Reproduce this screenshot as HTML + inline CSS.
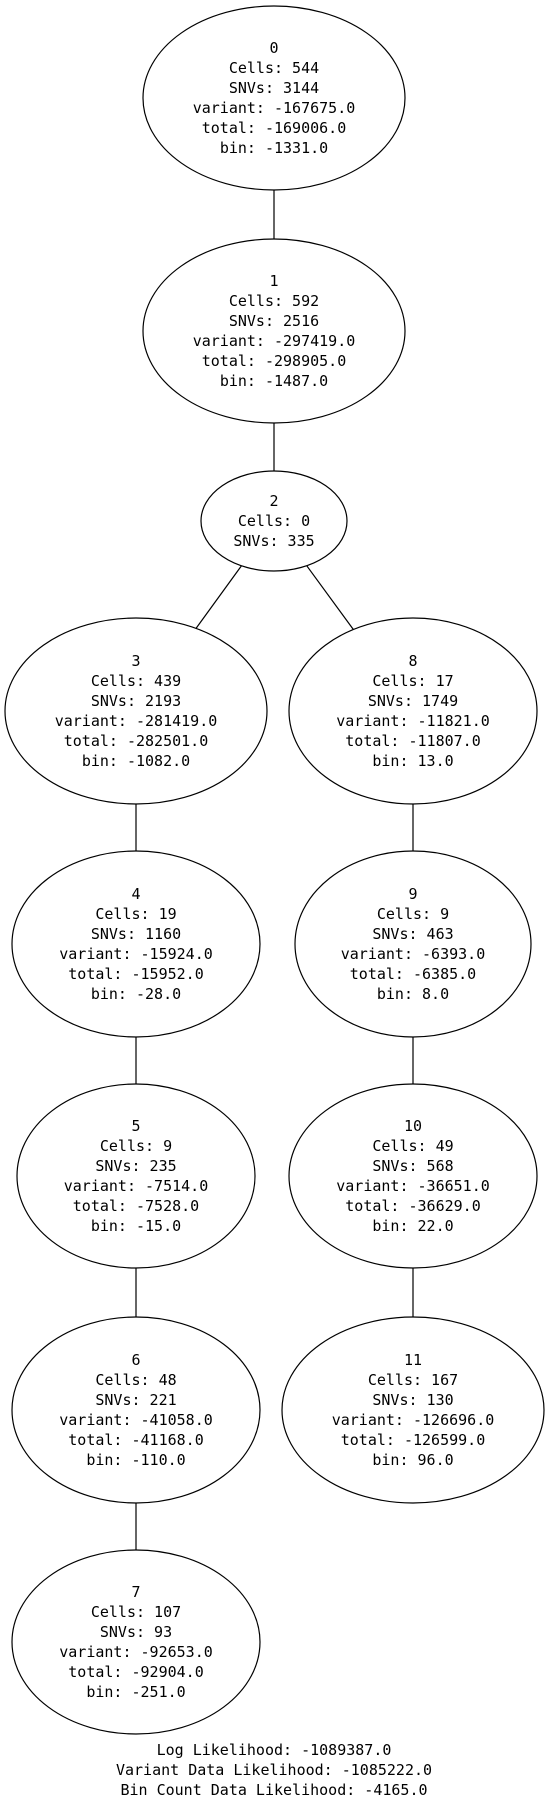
<!DOCTYPE html>
<html><head><meta charset="utf-8"><style>
html,body{margin:0;padding:0;background:#fff;}
svg{display:block;}
text{font-family:"DejaVu Sans Mono","Liberation Mono",monospace;font-size:15px;fill:#000;}
</style></head>
<body>
<svg id="tree" width="548" height="1806" viewBox="0 0 548 1806" xmlns="http://www.w3.org/2000/svg"></svg>
<script>
const nodeIds = [0,1,2,3,4,5,6,7,8,9,10,11];
const cells = [544,592,0,439,19,9,48,107,17,9,49,167];
const snvs = [3144,2516,335,2193,1160,235,221,93,1749,463,568,130];
const variantLL = [-167675,-297419,null,-281419,-15924,-7514,-41058,-92653,-11821,-6393,-36651,-126696];
const totalLL = [-169006,-298905,null,-282501,-15952,-7528,-41168,-92904,-11807,-6385,-36629,-126599];
const binLL = [-1331,-1487,null,-1082,-28,-15,-110,-251,13,8,22,96];
const parents = [null,0,1,2,3,4,5,6,2,8,9,10];
const footerLines = ["Log Likelihood: -1089387.0","Variant Data Likelihood: -1085222.0","Bin Count Data Likelihood: -4165.0"];

// layout (positions, not data)
const layout = {
 0:[274,98,131,92],1:[274,331,131,92],2:[274,521,73,50],
 3:[136,711,131,93],4:[136,944,124,93],5:[136,1176,119,92],6:[136,1410,124,93],7:[136,1642,124,92],
 8:[413,711,124,93],9:[413,944,118,93],10:[413,1176,124,92],11:[413,1410,131,93]
};
const NS="http://www.w3.org/2000/svg";
const svg=document.getElementById('tree');
function mk(t,a){const e=document.createElementNS(NS,t);for(const k in a)e.setAttribute(k,a[k]);return e;}
function edgePoint(n,tx,ty){const [cx,cy,rx,ry]=layout[n];const dx=tx-cx,dy=ty-cy;const s=1/Math.sqrt((dx*dx)/(rx*rx)+(dy*dy)/(ry*ry));return [cx+dx*s,cy+dy*s];}
nodeIds.forEach((id,i)=>{
  const p=parents[i]; if(p===null)return;
  const [px,py]=layout[p],[cx,cy]=layout[id];
  const a=edgePoint(p,cx,cy),b=edgePoint(id,px,py);
  const l=mk('line',{x1:a[0],y1:a[1],x2:b[0],y2:b[1],stroke:'#000','stroke-width':1.2});
  
  
  svg.appendChild(l);
});
const f=v=>v.toFixed(1);
nodeIds.forEach((id,i)=>{
  const [cx,cy,rx,ry]=layout[id];
  const g=mk('g',{});
  
  
  g.appendChild(mk('ellipse',{cx:cx,cy:cy,rx:rx,ry:ry,fill:'none',stroke:'#000','stroke-width':1.2}));
  const lines=[String(id),'Cells: '+cells[i],'SNVs: '+snvs[i]];
  if(variantLL[i]!==null){lines.push('variant: '+f(variantLL[i]),'total: '+f(totalLL[i]),'bin: '+f(binLL[i]));}
  const n=lines.length;
  lines.forEach((s,j)=>{
    const t=mk('text',{x:cx,y:cy+20*(j-(n-1)/2)+5,'text-anchor':'middle'});
    t.textContent=s;
    
    
    g.appendChild(t);
  });
  svg.appendChild(g);
});
footerLines.forEach((s,j)=>{
  const t=mk('text',{x:274,y:1755+20*j,'text-anchor':'middle'});
  t.textContent=s;
  
  
  svg.appendChild(t);
});
</script>
</body></html>
